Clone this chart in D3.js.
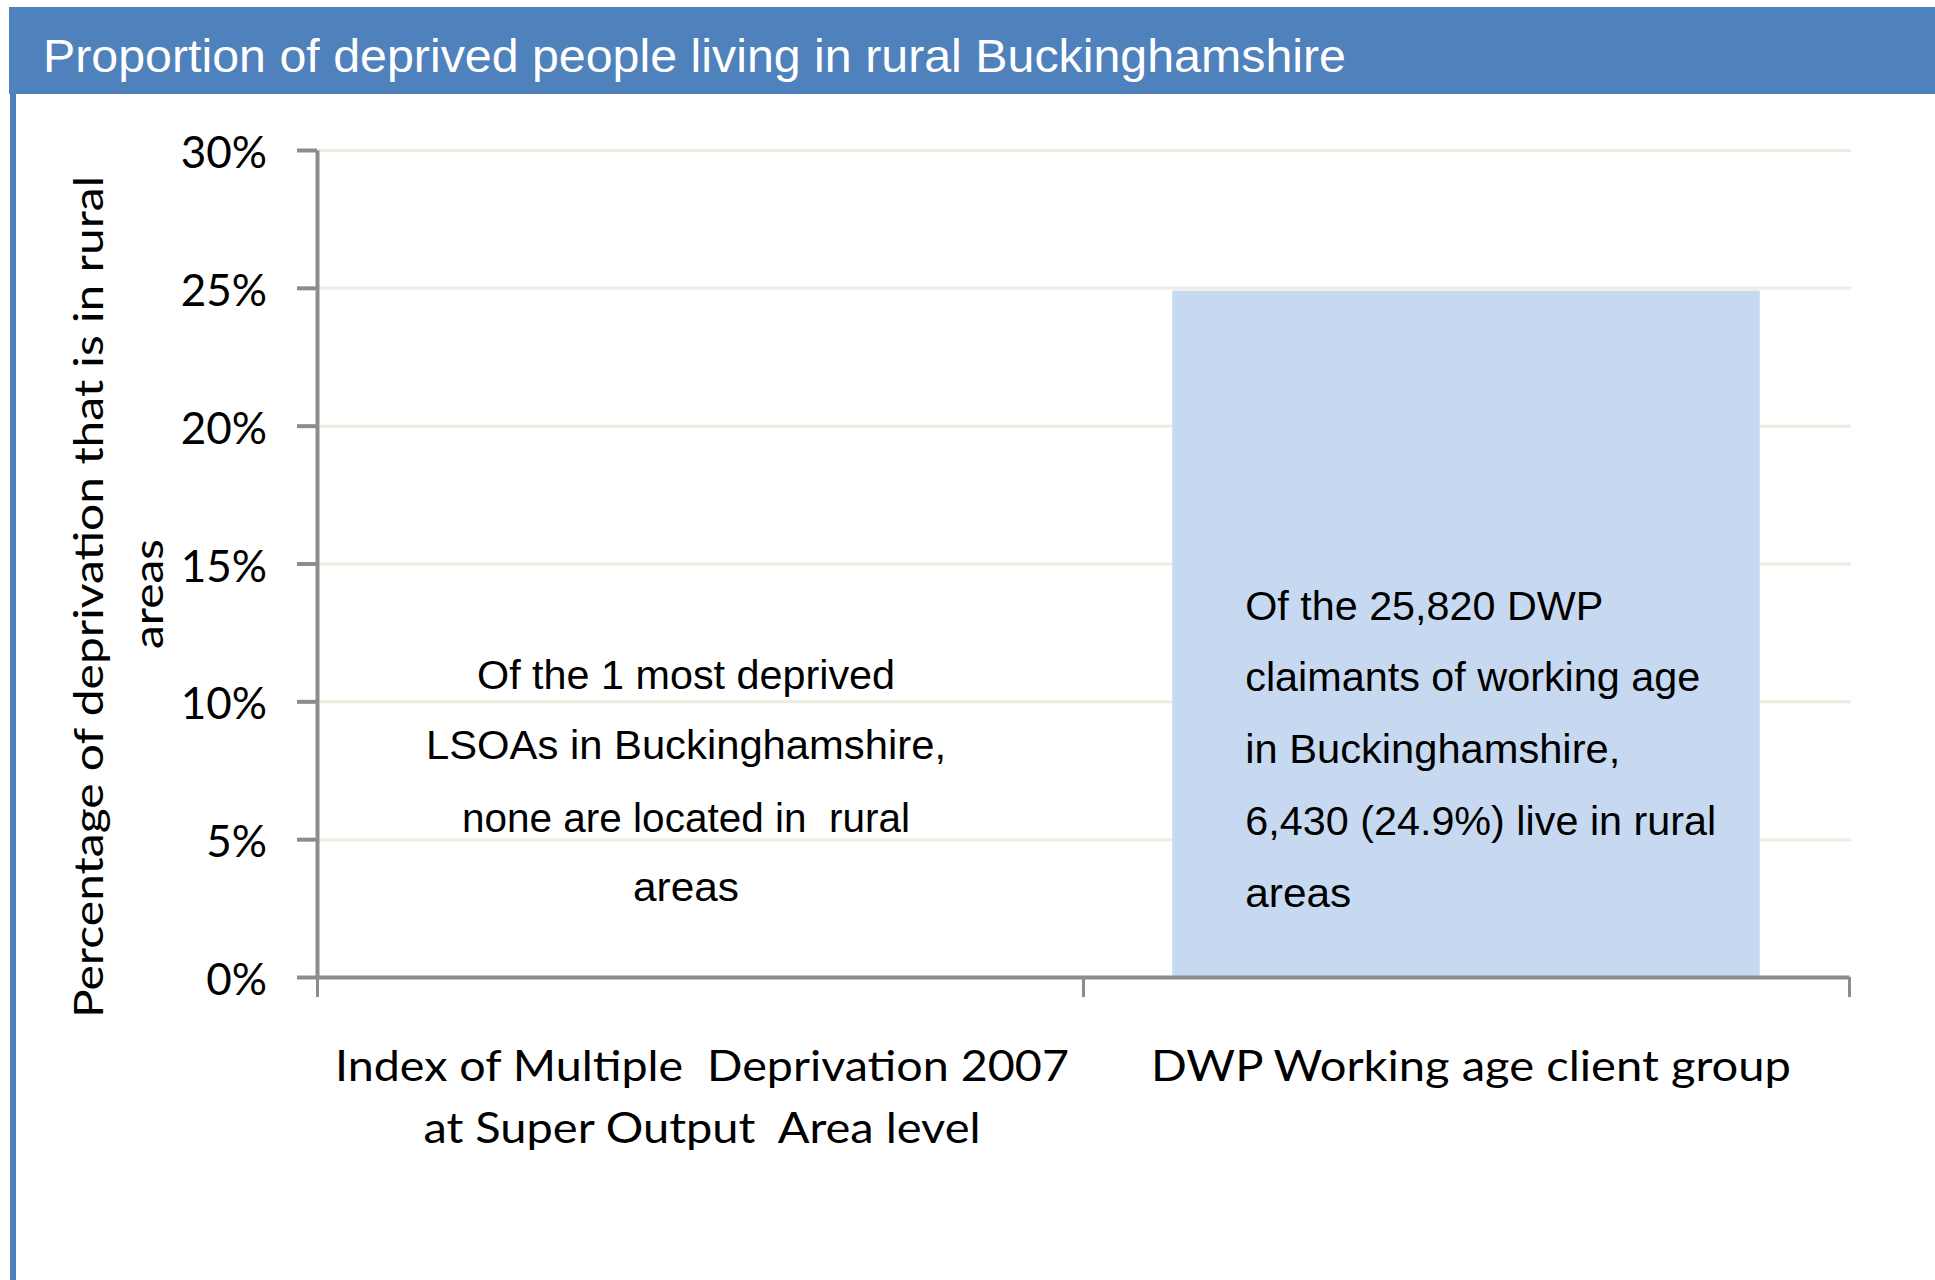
<!DOCTYPE html>
<html>
<head>
<meta charset="utf-8">
<script src="https://cdn.jsdelivr.net/npm/d3@7"></script>
<style>
  html, body { margin: 0; padding: 0; background: #ffffff; }
  svg { display: block; }
  text { white-space: pre; }
</style>
</head>
<body>
<script>
// ---- data ----
const title = "Proportion of deprived people living in rural Buckinghamshire";
const categories = ["IMD2007", "DWP"];
const categoryLabels = [
  ["Index of Multiple  Deprivation 2007", "at Super Output  Area level"],
  ["DWP Working age client group"]
];
const values = [0, 24.9];
const yTicks = [0, 5, 10, 15, 20, 25, 30];
const yTickLabels = ["0%", "5%", "10%", "15%", "20%", "25%", "30%"];
const yAxisTitle = ["Percentage of deprivation that is in rural", "areas"];
const annotationLeft = ["Of the 1 most deprived", "LSOAs in Buckinghamshire,", "none are located in  rural", "areas"];
const annotationRight = ["Of the 25,820 DWP", "claimants of working age", "in Buckinghamshire,", "6,430 (24.9%) live in rural", "areas"];

// ---- layout ----
const W = 1935, H = 1280;
const svg = d3.select("body").append("svg").attr("width", W).attr("height", H);

// frame: title bar + left border
svg.append("rect").attr("x", 9).attr("y", 7).attr("width", W - 9).attr("height", 87).attr("fill", "#4f81bd");
svg.append("rect").attr("x", 10).attr("y", 94).attr("width", 6).attr("height", H - 94).attr("fill", "#4f81bd");
svg.append("text").attr("x", 43).attr("y", 72)
  .attr("font-family", "'Liberation Sans', Arial, sans-serif").attr("font-size", 46)
  .attr("fill", "#ffffff").attr("textLength", 1303).attr("lengthAdjust", "spacingAndGlyphs")
  .text(title);

const plotL = 317, plotR = 1849, plotT = 150, plotB = 977;
const y = d3.scaleLinear().domain([0, 30]).range([plotB, plotT]);
const x = d3.scaleBand().domain(categories).range([plotL, plotR]).paddingInner(0.233).paddingOuter(0.1165);
const xb = d3.scaleLinear().domain([0, categories.length]).range([plotL, plotR]);

// gridlines
const grid = svg.append("g").attr("transform", `translate(${plotL},0)`)
  .call(d3.axisLeft(y).tickValues(yTicks.filter(d => d > 0)).tickSize(-(1851 - plotL)).tickFormat(""));
grid.select(".domain").remove();
grid.selectAll("line").attr("stroke", "#eeece1").attr("stroke-width", 3);

// bars
svg.append("g").selectAll("rect").data(values).join("rect")
  .attr("x", (d, i) => x(categories[i]))
  .attr("y", d => y(d))
  .attr("width", x.bandwidth())
  .attr("height", d => plotB - y(d))
  .attr("fill", "#c6d9f0");

// y axis
const yAxis = svg.append("g").attr("transform", `translate(${plotL},0)`)
  .call(d3.axisLeft(y).tickValues(yTicks).tickSize(20).tickSizeOuter(0).tickPadding(30)
    .tickFormat((d, i) => yTickLabels[i]));
yAxis.select(".domain").attr("stroke", "#8c8c8c").attr("stroke-width", 4);
yAxis.selectAll(".tick line").attr("stroke", "#8c8c8c").attr("stroke-width", 4);
yAxis.selectAll(".tick text").attr("font-family", "Lato, 'Open Sans', sans-serif")
  .attr("font-size", 44).attr("fill", "#000").attr("dy", "0.4em");

// x axis
const xAxis = svg.append("g").attr("transform", `translate(0,${plotB})`)
  .call(d3.axisBottom(xb).tickValues(d3.range(categories.length + 1)).tickSize(20).tickSizeOuter(0).tickFormat(""));
xAxis.select(".domain").attr("stroke", "#8c8c8c").attr("stroke-width", 4);
xAxis.selectAll(".tick line").attr("stroke", "#8c8c8c").attr("stroke-width", 3);

// category labels
const catWidths = [[734, 557], [640]];
categoryLabels.forEach((lines, i) => {
  const cx = x(categories[i]) + x.bandwidth() / 2 + (i === 0 ? 2 : 5);
  lines.forEach((ln, j) => {
    svg.append("text").attr("x", cx).attr("y", 1081 + j * 62)
      .attr("text-anchor", "middle")
      .attr("font-family", "Lato, 'Open Sans', sans-serif").attr("font-size", 43)
      .attr("fill", "#000")
      .attr("textLength", catWidths[i][j]).attr("lengthAdjust", "spacingAndGlyphs")
      .text(ln);
  });
});

// y axis title
const yt = svg.append("g");
yAxisTitle.forEach((ln, j) => {
  const bx = j === 0 ? 103 : 163;
  const cy = j === 0 ? 597 : 594;
  yt.append("text").attr("transform", `translate(${bx},${cy}) rotate(-90)`)
    .attr("text-anchor", "middle")
    .attr("font-family", "Lato, 'Open Sans', sans-serif").attr("font-size", 41)
    .attr("fill", "#000")
    .attr("textLength", j === 0 ? 842 : 110).attr("lengthAdjust", "spacingAndGlyphs")
    .text(ln);
});

// annotations
const leftWidths = [418, 520, 448, 106];
const leftBase = [689, 759, 832, 901];
const lcx = x(categories[0]) + x.bandwidth() / 2 - 14;
annotationLeft.forEach((ln, j) => {
  svg.append("text").attr("x", lcx).attr("y", leftBase[j])
    .attr("text-anchor", "middle")
    .attr("font-family", "'Liberation Sans', Arial, sans-serif").attr("font-size", 41)
    .attr("fill", "#000")
    .attr("textLength", leftWidths[j]).attr("lengthAdjust", "spacingAndGlyphs")
    .text(ln);
});
const rightWidths = [358, 455, 375, 471, 106];
const rightBase = [620, 691, 763, 835, 907];
const rx = x(categories[1]) + 73;
annotationRight.forEach((ln, j) => {
  svg.append("text").attr("x", rx).attr("y", rightBase[j])
    .attr("font-family", "'Liberation Sans', Arial, sans-serif").attr("font-size", 41)
    .attr("fill", "#000")
    .attr("textLength", rightWidths[j]).attr("lengthAdjust", "spacingAndGlyphs")
    .text(ln);
});
</script>
</body>
</html>
